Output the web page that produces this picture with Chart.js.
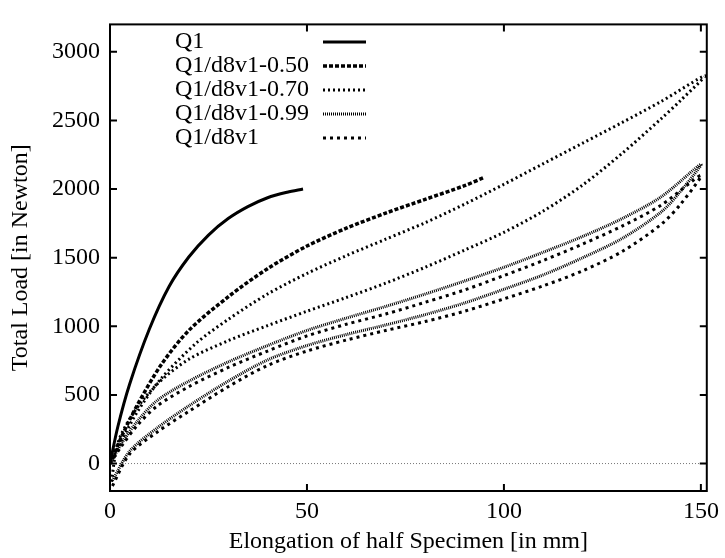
<!DOCTYPE html>
<html>
<head>
<meta charset="utf-8">
<script src="https://cdn.jsdelivr.net/npm/chart.js@4"></script>
<style>
  html, body { margin: 0; padding: 0; background: #fff; }
</style>
</head>
<body>
<canvas id="chart" width="725" height="558"></canvas>
<script>
// ── Load / elongation curves ─────────────────────────────────

const xTicks = [0, 50, 100, 150];
const yTicks = [0, 500, 1000, 1500, 2000, 2500, 3000];

// Q1: loading only
const q1X = [0, 2, 5, 10, 15, 20, 25, 30, 35, 40, 45, 49];
const q1Y = [0, 270, 580, 980, 1290, 1505, 1665, 1785, 1872, 1937, 1977, 2000];

// Q1/d8v1-0.50: loading only
const d050X = [0, 3, 7, 13, 20, 30, 40, 50, 60, 70, 80, 90, 95];
const d050Y = [0, 200, 430, 720, 970, 1215, 1420, 1585, 1715, 1825, 1925, 2025, 2085];

// Q1/d8v1-0.70: loading up to the tip, then back down
const d070X = [0, 3, 7, 13, 22, 30, 40, 50, 60, 70, 80, 90, 100, 110, 120, 130, 140, 151,
  145, 140, 130, 120, 110, 100, 90, 80, 70, 60, 50, 40, 30, 20, 12, 6, 2, 0.3];
const d070Y = [0, 170, 380, 620, 880, 1050, 1235, 1385, 1515, 1635, 1755, 1890, 2035, 2185, 2335, 2485, 2640, 2825,
  2650, 2515, 2260, 2030, 1840, 1685, 1555, 1430, 1315, 1210, 1110, 1005, 895, 760, 580, 370, 150, -150];

// Q1/d8v1-0.99
const d099X = [0, 3, 7, 12, 20, 30, 40, 50, 60, 70, 80, 90, 100, 110, 120, 130, 140, 150,
  145, 140, 130, 120, 110, 100, 90, 80, 70, 60, 50, 40, 30, 20, 12, 5, 0.5];
const d099Y = [0, 150, 310, 460, 600, 740, 860, 970, 1060, 1145, 1235, 1330, 1430, 1540, 1655, 1785, 1945, 2180,
  1990, 1835, 1640, 1500, 1375, 1270, 1170, 1085, 1010, 940, 860, 755, 600, 420, 260, 90, -130];

// Q1/d8v1
const d8v1X = [0, 3, 7, 12, 20, 30, 40, 50, 60, 70, 80, 90, 100, 110, 120, 130, 140, 150,
  145, 140, 130, 120, 110, 100, 90, 80, 70, 60, 50, 40, 30, 20, 12, 5, 0.5];
const d8v1Y = [0, 130, 280, 420, 560, 700, 820, 930, 1015, 1090, 1175, 1265, 1370, 1480, 1600, 1730, 1885, 2100,
  1895, 1745, 1545, 1405, 1295, 1200, 1110, 1035, 970, 900, 820, 715, 560, 380, 230, 70, -170];

const seriesLabels = ["Q1", "Q1/d8v1-0.50", "Q1/d8v1-0.70", "Q1/d8v1-0.99", "Q1/d8v1"];

// ── Chart ─────────────────────────────────────────────

const FONT = { family: "'Liberation Serif', 'DejaVu Serif', serif", size: 24 };
const toPoints = (xs, ys) => xs.map((x, i) => ({ x, y: ys[i] }));

const styles = [
  { dash: [], width: 3 },
  { dash: [4, 2], width: 3.5 },
  { dash: [2, 3], width: 3 },
  { dash: [1, 1], width: 3 },
  { dash: [3, 4], width: 3 },
];

const curves = [
  toPoints(q1X, q1Y),
  toPoints(d050X, d050Y),
  toPoints(d070X, d070Y),
  toPoints(d099X, d099Y),
  toPoints(d8v1X, d8v1Y),
];

// frame, inward ticks and the dotted zero line, gnuplot style
const framePlugin = {
  id: "frame",
  beforeDatasetsDraw(chart) {
    const { ctx, chartArea: a, scales } = chart;
    const y0 = scales.y.getPixelForValue(0);
    ctx.save();
    ctx.strokeStyle = "#777";
    ctx.lineWidth = 1;
    ctx.setLineDash([1, 2]);
    ctx.beginPath();
    ctx.moveTo(a.left, y0);
    ctx.lineTo(a.right, y0);
    ctx.stroke();
    ctx.restore();
  },
  afterDraw(chart) {
    const { ctx, chartArea: a, scales } = chart;
    const len = 7;
    ctx.save();
    ctx.strokeStyle = "#000";
    ctx.lineWidth = 2;
    ctx.setLineDash([]);
    ctx.strokeRect(a.left, a.top, a.right - a.left, a.bottom - a.top);
    ctx.beginPath();
    xTicks.forEach((v) => {
      const px = scales.x.getPixelForValue(v);
      ctx.moveTo(px, a.bottom); ctx.lineTo(px, a.bottom - len);
      ctx.moveTo(px, a.top); ctx.lineTo(px, a.top + len);
    });
    yTicks.forEach((v) => {
      const py = scales.y.getPixelForValue(v);
      ctx.moveTo(a.left, py); ctx.lineTo(a.left + len, py);
      ctx.moveTo(a.right, py); ctx.lineTo(a.right - len, py);
    });
    ctx.stroke();
    ctx.restore();
  },
};

// key: text on the left, line sample on the right
const keyPlugin = {
  id: "key",
  afterDraw(chart) {
    const { ctx } = chart;
    ctx.save();
    ctx.font = `${FONT.size}px ${FONT.family}`;
    ctx.fillStyle = "#000";
    ctx.textBaseline = "middle";
    ctx.textAlign = "left";
    chart.data.datasets.forEach((ds, i) => {
      const y = 42 + i * 24;
      ctx.fillText(ds.label, 175, y);
      ctx.strokeStyle = "#000";
      ctx.lineWidth = ds.borderWidth;
      ctx.setLineDash(ds.borderDash);
      ctx.beginPath();
      ctx.moveTo(323, y);
      ctx.lineTo(366, y);
      ctx.stroke();
    });
    ctx.restore();
  },
};

new Chart(document.getElementById("chart"), {
  type: "scatter",
  data: {
    datasets: curves.map((pts, i) => ({
      label: seriesLabels[i],
      data: pts,
      showLine: true,
      pointRadius: 0,
      borderColor: "#000",
      borderWidth: styles[i].width,
      borderDash: styles[i].dash,
      tension: 0.3,
      fill: false,
    })),
  },
  options: {
    responsive: false,
    animation: false,
    devicePixelRatio: 1,
    layout: { padding: { top: 14, right: 12, left: 0, bottom: 0 } },
    plugins: { legend: { display: false }, tooltip: { enabled: false } },
    scales: {
      x: {
        type: "linear",
        min: 0,
        max: 151.5,
        grid: { display: false, drawTicks: false },
        border: { display: false },
        afterBuildTicks: (axis) => { axis.ticks = xTicks.map((v) => ({ value: v })); },
        afterFit: (s) => { s.height = 67; },
        ticks: { color: "#000", font: FONT, padding: 6, maxRotation: 0, callback: (v) => String(v) },
        title: { display: true, text: "Elongation of half Specimen [in mm]", color: "#000", font: FONT, padding: { top: 0, bottom: 2 } },
      },
      y: {
        type: "linear",
        min: -200,
        max: 3200,
        grid: { display: false, drawTicks: false },
        border: { display: false },
        afterBuildTicks: (axis) => { axis.ticks = yTicks.map((v) => ({ value: v })); },
        afterFit: (s) => { s.width = 110; },
        ticks: { color: "#000", font: FONT, padding: 10, callback: (v) => String(v) },
        title: { display: true, text: "Total Load [in Newton]", color: "#000", font: FONT, padding: { top: 6, bottom: 0 } },
      },
    },
  },
  plugins: [framePlugin, keyPlugin],
});
</script>
</body>
</html>
